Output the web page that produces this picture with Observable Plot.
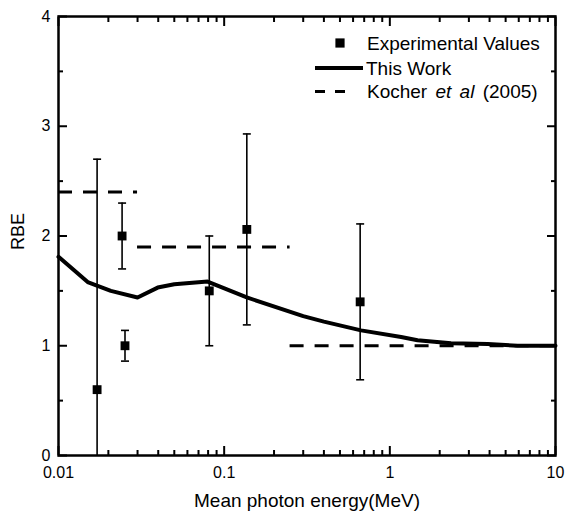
<!DOCTYPE html>
<html><head><meta charset="utf-8">
<script src="https://cdn.jsdelivr.net/npm/d3@7"></script>
<script src="https://cdn.jsdelivr.net/npm/@observablehq/plot@0.6"></script>
<style>
body{margin:0;background:#fff;}
#chart{position:relative;width:566px;height:518px;}
svg{font-family:"Liberation Sans",Arial,sans-serif;}
</style>
</head><body><div id="chart"></div>
<script>
// Experimental values (mean photon energy in MeV, RBE, error bar ends)
const expX    = [0.0171, 0.0242, 0.0252, 0.0813, 0.137, 0.662];
const expY    = [0.60,   2.00,   1.00,   1.50,   2.06,  1.40];
const expLow  = [-1.50,  1.70,   0.86,   1.00,   1.19,  0.69];
const expHigh = [2.70,   2.30,   1.14,   2.00,   2.93,  2.11];

// This Work (solid curve)
const workX = [0.01, 0.015, 0.0207, 0.030, 0.0397, 0.050, 0.0794, 0.137, 0.30, 0.40, 0.67, 1.17, 1.47, 2.34, 3.9, 5.9, 10];
const workY = [1.81, 1.58,  1.50,   1.44,  1.53,   1.56,  1.585,  1.44,  1.27, 1.22, 1.14, 1.08, 1.05, 1.023, 1.015, 1.0, 1.0];

// Kocher et al (2005) step values (dashed)
const kocherX1 = [0.01, 0.03, 0.25];
const kocherX2 = [0.03, 0.25, 10];
const kocherY  = [2.4,  1.9,  1.0];

// Axis ticks and labels
const xMajor = [0.01, 0.1, 1, 10];
const xTickLabels = ["0.01", "0.1", "1", "10"];
const xMinor = [0.02,0.03,0.04,0.05,0.06,0.07,0.08,0.09,0.2,0.3,0.4,0.5,0.6,0.7,0.8,0.9,2,3,4,5,6,7,8,9];
const yMajor = [0, 1, 2, 3, 4];
const yTickLabels = ["0", "1", "2", "3", "4"];
const yMinor = [0.5, 1.5, 2.5, 3.5];

const xTitle = "Mean photon energy(MeV)";
const yTitle = "RBE";
const legendLabels = ["Experimental Values", "This Work", "Kocher "];

const expData = expX.map((x, i) => ({x, y: expY[i], lo: expLow[i], hi: expHigh[i]}));
const workData = workX.map((x, i) => ({x, y: workY[i]}));
const kocherData = kocherY.map((y, i) => ({x1: kocherX1[i], x2: kocherX2[i], y}));

const W = 566, H = 518, mL = 58, mR = 11, mT = 16, mB = 63;
const majorLen = 9, minorLen = 5;

const capSymbol = {
  draw(context, size) {
    const w = Math.sqrt(size / Math.PI);
    context.moveTo(-w, 0);
    context.lineTo(w, 0);
  }
};

const font = "Liberation Sans, Arial, sans-serif";

// inward tick helpers (axis ticks shifted back inside the frame)
const tickOpts = (len) => ({tickSize: len, fill: "none", label: null, strokeWidth: 2, tickFormat: null});

const chart = Plot.plot({
  width: W, height: H,
  marginLeft: mL, marginRight: mR, marginTop: mT, marginBottom: mB,
  style: {fontFamily: font, background: "white", color: "black"},
  x: {type: "log", domain: [0.01, 10]},
  y: {domain: [0, 4]},
  marks: [
    // tick labels
    Plot.axisX(xMajor, {anchor: "bottom", tickSize: 0, tickPadding: 11, fontSize: 16, label: null,
      tickFormat: d => xTickLabels[xMajor.indexOf(d)]}),
    Plot.axisY(yMajor, {anchor: "left", tickSize: 0, tickPadding: 8, fontSize: 16, label: null,
      tickFormat: d => yTickLabels[yMajor.indexOf(d)]}),
    // inward ticks
    Plot.axisX(xMajor, {anchor: "bottom", ...tickOpts(majorLen), dy: -majorLen}),
    Plot.axisX(xMinor, {anchor: "bottom", ...tickOpts(minorLen), dy: -minorLen}),
    Plot.axisX(xMajor, {anchor: "top", ...tickOpts(majorLen), dy: majorLen}),
    Plot.axisX(xMinor, {anchor: "top", ...tickOpts(minorLen), dy: minorLen}),
    Plot.axisY(yMajor, {anchor: "left", ...tickOpts(majorLen), dx: majorLen}),
    Plot.axisY(yMinor, {anchor: "left", ...tickOpts(minorLen), dx: minorLen}),
    Plot.axisY(yMajor, {anchor: "right", ...tickOpts(majorLen), dx: -majorLen}),
    Plot.axisY(yMinor, {anchor: "right", ...tickOpts(minorLen), dx: -minorLen}),
    // Kocher dashed steps
    Plot.ruleY(kocherData, {y: "y", x1: "x1", x2: "x2", strokeWidth: 3, strokeDasharray: "14,11"}),
    // This work curve
    Plot.line(workData, {x: "x", y: "y", strokeWidth: 4, strokeLinejoin: "round"}),
    // error bars
    Plot.ruleX(expData, {x: "x", y1: "lo", y2: "hi", strokeWidth: 1.6, clip: true}),
    Plot.dot(expData, {x: "x", y: "hi", symbol: capSymbol, r: 4, stroke: "black", strokeWidth: 1.6, fill: "none", clip: true}),
    Plot.dot(expData, {x: "x", y: "lo", symbol: capSymbol, r: 4, stroke: "black", strokeWidth: 1.6, fill: "none", clip: true}),
    Plot.dot(expData, {x: "x", y: "y", symbol: "square", r: 5, fill: "black", stroke: "none"}),
    // frame
    Plot.frame({stroke: "black", strokeWidth: 2.5}),
    // axis titles
    Plot.text([xTitle], {text: d => d, frameAnchor: "bottom", dy: 51, fontSize: 19, fill: "black"}),
    Plot.text([yTitle], {text: d => d, frameAnchor: "left", dx: -40, dy: 14, rotate: -90, fontSize: 18, fill: "black"})
  ]
});

document.getElementById("chart").appendChild(chart);

// Legend (inside plot, top right)
const svg = d3.select(chart);
const lg = svg.append("g").attr("font-family", font).attr("font-size", 19).attr("fill", "black").attr("text-anchor", "start");
const rows = [43, 68, 91.5];
const sx0 = 315, sx1 = 363, tx = 367;
lg.append("rect").attr("x", 340 - 4.6).attr("y", rows[0] - 4.6).attr("width", 9.2).attr("height", 9.2).attr("fill", "black");
lg.append("line").attr("x1", sx0).attr("x2", sx1).attr("y1", rows[1]).attr("y2", rows[1]).attr("stroke", "black").attr("stroke-width", 4);
lg.append("line").attr("x1", sx0).attr("x2", 345).attr("y1", rows[2]).attr("y2", rows[2]).attr("stroke", "black").attr("stroke-width", 3).attr("stroke-dasharray", "10,10");
lg.append("text").attr("x", tx).attr("y", rows[0]).attr("dy", "0.35em").text(legendLabels[0]);
lg.append("text").attr("x", tx - 1).attr("y", rows[1]).attr("dy", "0.35em").text(legendLabels[1]);
const t3 = lg.append("text").attr("x", tx).attr("y", rows[2]).attr("dy", "0.35em").attr("word-spacing", "3px");
t3.append("tspan").text(legendLabels[2]);
t3.append("tspan").attr("font-style", "italic").text("et al");
t3.append("tspan").text(" (2005)");
</script>
</body></html>
